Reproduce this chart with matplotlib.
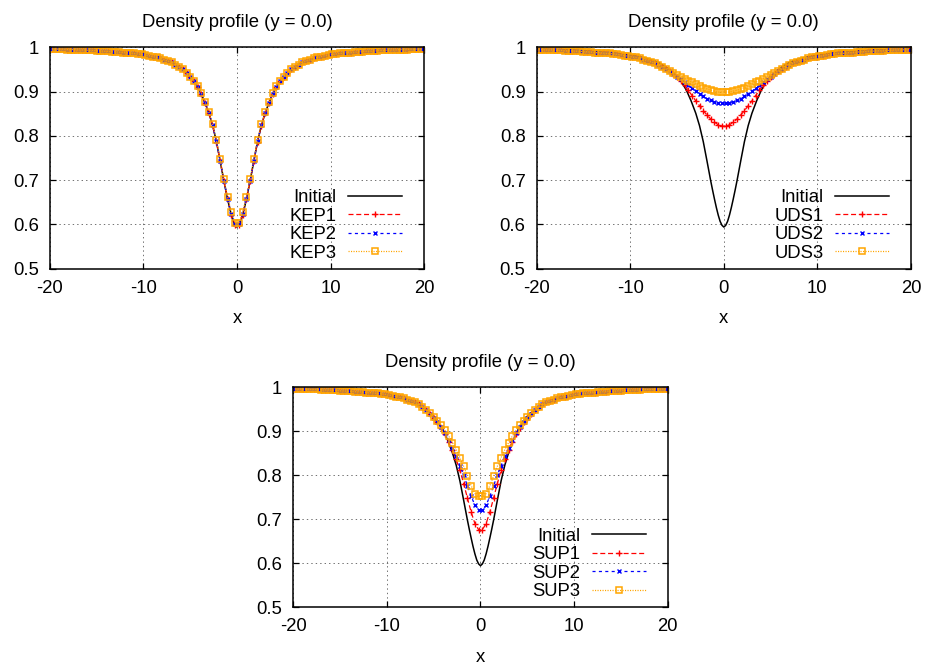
import numpy as np
import matplotlib
matplotlib.use("Agg")
import matplotlib.pyplot as plt

plt.rcParams['font.family'] = ['Liberation Sans', 'DejaVu Sans']
plt.rcParams['font.size'] = 13.3
plt.rcParams['lines.scale_dashes'] = False
plt.rcParams['axes.unicode_minus'] = False

# ---------------- data ----------------
# cell-centre positions of the sampled solutions (100 cells on [-20, 20])
x_cells = np.round(np.arange(-19.8, 19.81, 0.4), 1)

# initial (exact) profile, drawn as a solid line
x_init = [-20, -18, -16, -14, -12, -10, -9, -8, -7, -6, -5, -4.5, -4, -3.5, -3,
          -2.6, -2.2, -1.8, -1.4, -1.2, -1.0, -0.8, -0.6, -0.4, -0.2, 0,
          0.2, 0.4, 0.6, 0.8, 1.0, 1.2, 1.4, 1.8, 2.2, 2.6, 3, 3.5, 4, 4.5, 5,
          6, 7, 8, 9, 10, 12, 14, 16, 18, 20]
rho_init = [0.996, 0.995, 0.994, 0.991, 0.988, 0.983, 0.979, 0.9735, 0.966, 0.953, 0.934, 0.921, 0.903, 0.879, 0.851,
            0.823, 0.787, 0.743, 0.698, 0.677, 0.657, 0.638, 0.621, 0.607, 0.598, 0.594,
            0.598, 0.607, 0.621, 0.638, 0.657, 0.677, 0.698, 0.743, 0.787, 0.823, 0.851, 0.879, 0.903, 0.921, 0.934,
            0.953, 0.966, 0.9735, 0.979, 0.983, 0.988, 0.991, 0.994, 0.995, 0.996]

kep1 = [0.996, 0.996, 0.996, 0.996, 0.995, 0.995, 0.995, 0.994, 0.994, 0.994, 0.993, 0.993, 0.992, 0.992, 0.991, 0.991, 0.990, 0.990,
        0.989, 0.988, 0.988, 0.987, 0.986, 0.985, 0.984, 0.982, 0.981, 0.979, 0.977, 0.975, 0.972, 0.969, 0.966, 0.961, 0.956,
        0.950, 0.943, 0.934, 0.924, 0.911, 0.895, 0.874, 0.851, 0.823, 0.787, 0.743, 0.698, 0.657, 0.622, 0.599,
        0.599, 0.622, 0.657, 0.698, 0.743, 0.787, 0.823, 0.851, 0.874, 0.895, 0.911, 0.924, 0.934, 0.943, 0.950,
        0.956, 0.961, 0.966, 0.969, 0.972, 0.975, 0.977, 0.979, 0.981, 0.982, 0.984, 0.985, 0.986, 0.987, 0.988, 0.988, 0.989,
        0.990, 0.990, 0.991, 0.991, 0.992, 0.992, 0.993, 0.993, 0.994, 0.994, 0.994, 0.995, 0.995, 0.995, 0.996, 0.996, 0.996, 0.996]
kep2 = [0.996, 0.996, 0.996, 0.996, 0.995, 0.995, 0.995, 0.994, 0.994, 0.994, 0.993, 0.993, 0.992, 0.992, 0.991, 0.991, 0.990, 0.990,
        0.989, 0.988, 0.988, 0.987, 0.986, 0.985, 0.984, 0.982, 0.981, 0.979, 0.977, 0.975, 0.972, 0.969, 0.966, 0.961, 0.956,
        0.950, 0.943, 0.934, 0.924, 0.911, 0.895, 0.875, 0.852, 0.824, 0.788, 0.744, 0.699, 0.658, 0.623, 0.600,
        0.600, 0.623, 0.658, 0.699, 0.744, 0.788, 0.824, 0.852, 0.875, 0.895, 0.911, 0.924, 0.934, 0.943, 0.950,
        0.956, 0.961, 0.966, 0.969, 0.972, 0.975, 0.977, 0.979, 0.981, 0.982, 0.984, 0.985, 0.986, 0.987, 0.988, 0.988, 0.989,
        0.990, 0.990, 0.991, 0.991, 0.992, 0.992, 0.993, 0.993, 0.994, 0.994, 0.994, 0.995, 0.995, 0.995, 0.996, 0.996, 0.996, 0.996]
kep3 = [0.996, 0.996, 0.996, 0.996, 0.995, 0.995, 0.995, 0.994, 0.994, 0.994, 0.993, 0.993, 0.992, 0.992, 0.991, 0.991, 0.990, 0.990,
        0.989, 0.988, 0.988, 0.987, 0.986, 0.985, 0.984, 0.982, 0.981, 0.979, 0.977, 0.975, 0.972, 0.969, 0.966, 0.961, 0.956,
        0.950, 0.943, 0.934, 0.924, 0.912, 0.896, 0.876, 0.853, 0.826, 0.791, 0.747, 0.702, 0.661, 0.627, 0.604,
        0.604, 0.627, 0.661, 0.702, 0.747, 0.791, 0.826, 0.853, 0.876, 0.896, 0.912, 0.924, 0.934, 0.943, 0.950,
        0.956, 0.961, 0.966, 0.969, 0.972, 0.975, 0.977, 0.979, 0.981, 0.982, 0.984, 0.985, 0.986, 0.987, 0.988, 0.988, 0.989,
        0.990, 0.990, 0.991, 0.991, 0.992, 0.992, 0.993, 0.993, 0.994, 0.994, 0.994, 0.995, 0.995, 0.995, 0.996, 0.996, 0.996, 0.996]

uds1 = [0.995, 0.995, 0.994, 0.994, 0.994, 0.993, 0.993, 0.992, 0.992, 0.992, 0.991, 0.991, 0.990, 0.990, 0.989, 0.988, 0.988,
        0.987, 0.986, 0.986, 0.985, 0.984, 0.983, 0.981, 0.980, 0.978, 0.977, 0.975, 0.972, 0.970, 0.967, 0.964, 0.960, 0.956, 0.951,
        0.946, 0.940, 0.933, 0.924, 0.914, 0.903, 0.891, 0.879, 0.868, 0.857, 0.847, 0.838, 0.831, 0.825, 0.822,
        0.822, 0.825, 0.831, 0.838, 0.847, 0.857, 0.868, 0.879, 0.891, 0.903, 0.914, 0.924, 0.933, 0.940, 0.946,
        0.951, 0.956, 0.960, 0.964, 0.967, 0.970, 0.972, 0.975, 0.977, 0.978, 0.980, 0.981, 0.983, 0.984, 0.985, 0.986, 0.986,
        0.987, 0.988, 0.988, 0.989, 0.990, 0.990, 0.991, 0.991, 0.992, 0.992, 0.992, 0.993, 0.993, 0.994, 0.994, 0.994, 0.995, 0.995]
uds2 = [0.995, 0.995, 0.994, 0.994, 0.994, 0.993, 0.993, 0.992, 0.992, 0.992, 0.991, 0.991, 0.990, 0.990, 0.989, 0.988, 0.988,
        0.987, 0.986, 0.986, 0.985, 0.984, 0.983, 0.981, 0.980, 0.978, 0.977, 0.975, 0.972, 0.970, 0.967, 0.964, 0.960, 0.956, 0.951,
        0.946, 0.940, 0.934, 0.928, 0.921, 0.914, 0.907, 0.901, 0.895, 0.889, 0.884, 0.880, 0.877, 0.875, 0.874,
        0.874, 0.875, 0.877, 0.880, 0.884, 0.889, 0.895, 0.901, 0.907, 0.914, 0.921, 0.928, 0.934, 0.940, 0.946,
        0.951, 0.956, 0.960, 0.964, 0.967, 0.970, 0.972, 0.975, 0.977, 0.978, 0.980, 0.981, 0.983, 0.984, 0.985, 0.986, 0.986,
        0.987, 0.988, 0.988, 0.989, 0.990, 0.990, 0.991, 0.991, 0.992, 0.992, 0.992, 0.993, 0.993, 0.994, 0.994, 0.994, 0.995, 0.995]
uds3 = [0.995, 0.995, 0.994, 0.994, 0.994, 0.993, 0.993, 0.992, 0.992, 0.992, 0.991, 0.991, 0.990, 0.990, 0.989, 0.988, 0.988,
        0.987, 0.986, 0.986, 0.985, 0.984, 0.983, 0.981, 0.980, 0.978, 0.977, 0.975, 0.972, 0.970, 0.967, 0.964, 0.960, 0.956, 0.951,
        0.946, 0.942, 0.938, 0.934, 0.929, 0.925, 0.921, 0.917, 0.913, 0.909, 0.906, 0.903, 0.901, 0.899, 0.899,
        0.899, 0.899, 0.901, 0.903, 0.906, 0.909, 0.913, 0.917, 0.921, 0.925, 0.929, 0.934, 0.938, 0.942, 0.946,
        0.951, 0.956, 0.960, 0.964, 0.967, 0.970, 0.972, 0.975, 0.977, 0.978, 0.980, 0.981, 0.983, 0.984, 0.985, 0.986, 0.986,
        0.987, 0.988, 0.988, 0.989, 0.990, 0.990, 0.991, 0.991, 0.992, 0.992, 0.992, 0.993, 0.993, 0.994, 0.994, 0.994, 0.995, 0.995]

sup1 = [0.996, 0.996, 0.996, 0.996, 0.995, 0.995, 0.995, 0.994, 0.994, 0.994, 0.993, 0.993, 0.992, 0.992, 0.991, 0.991, 0.990, 0.990,
        0.989, 0.988, 0.988, 0.987, 0.986, 0.985, 0.984, 0.982, 0.981, 0.979, 0.977, 0.975, 0.972, 0.969, 0.966, 0.961, 0.956,
        0.948, 0.940, 0.931, 0.920, 0.908, 0.893, 0.876, 0.858, 0.836, 0.811, 0.781, 0.748, 0.716, 0.690, 0.676,
        0.676, 0.690, 0.716, 0.748, 0.781, 0.811, 0.836, 0.858, 0.876, 0.893, 0.908, 0.920, 0.931, 0.940, 0.948,
        0.956, 0.961, 0.966, 0.969, 0.972, 0.975, 0.977, 0.979, 0.981, 0.982, 0.984, 0.985, 0.986, 0.987, 0.988, 0.988, 0.989,
        0.990, 0.990, 0.991, 0.991, 0.992, 0.992, 0.993, 0.993, 0.994, 0.994, 0.994, 0.995, 0.995, 0.995, 0.996, 0.996, 0.996, 0.996]
sup2 = [0.996, 0.996, 0.996, 0.996, 0.995, 0.995, 0.995, 0.994, 0.994, 0.994, 0.993, 0.993, 0.992, 0.992, 0.991, 0.991, 0.990, 0.990,
        0.989, 0.988, 0.988, 0.987, 0.986, 0.985, 0.984, 0.982, 0.981, 0.979, 0.977, 0.975, 0.972, 0.969, 0.966, 0.961, 0.956,
        0.948, 0.940, 0.931, 0.921, 0.909, 0.895, 0.879, 0.862, 0.843, 0.822, 0.800, 0.776, 0.752, 0.732, 0.721,
        0.721, 0.732, 0.752, 0.776, 0.800, 0.822, 0.843, 0.862, 0.879, 0.895, 0.909, 0.921, 0.931, 0.940, 0.948,
        0.956, 0.961, 0.966, 0.969, 0.972, 0.975, 0.977, 0.979, 0.981, 0.982, 0.984, 0.985, 0.986, 0.987, 0.988, 0.988, 0.989,
        0.990, 0.990, 0.991, 0.991, 0.992, 0.992, 0.993, 0.993, 0.994, 0.994, 0.994, 0.995, 0.995, 0.995, 0.996, 0.996, 0.996, 0.996]
sup3 = [0.996, 0.996, 0.996, 0.996, 0.995, 0.995, 0.995, 0.994, 0.994, 0.994, 0.993, 0.993, 0.992, 0.992, 0.991, 0.991, 0.990, 0.990,
        0.989, 0.988, 0.988, 0.987, 0.986, 0.985, 0.984, 0.982, 0.981, 0.979, 0.977, 0.975, 0.972, 0.969, 0.966, 0.961, 0.956,
        0.949, 0.941, 0.933, 0.924, 0.914, 0.902, 0.889, 0.874, 0.858, 0.840, 0.820, 0.798, 0.776, 0.758, 0.752,
        0.752, 0.758, 0.776, 0.798, 0.820, 0.840, 0.858, 0.874, 0.889, 0.902, 0.914, 0.924, 0.933, 0.941, 0.949,
        0.956, 0.961, 0.966, 0.969, 0.972, 0.975, 0.977, 0.979, 0.981, 0.982, 0.984, 0.985, 0.986, 0.987, 0.988, 0.988, 0.989,
        0.990, 0.990, 0.991, 0.991, 0.992, 0.992, 0.993, 0.993, 0.994, 0.994, 0.994, 0.995, 0.995, 0.995, 0.996, 0.996, 0.996, 0.996]

panels = [
    (["KEP1", "KEP2", "KEP3"], [kep1, kep2, kep3]),
    (["UDS1", "UDS2", "UDS3"], [uds1, uds2, uds3]),
    (["SUP1", "SUP2", "SUP3"], [sup1, sup2, sup3]),
]
title = "Density profile (y = 0.0)"
xticks = [-20, -10, 0, 10, 20]
yticks = [0.5, 0.6, 0.7, 0.8, 0.9, 1.0]
ytick_labels = ["0.5", "0.6", "0.7", "0.8", "0.9", "1"]

# ---------------- styles ----------------
styles = [
    dict(color="#ff0000", dashes=(3.6, 2.0), marker="+", markersize=4.4, markeredgewidth=1.0, linewidth=0.9),
    dict(color="#0000ff", dashes=(2.2, 2.4), marker="x", markersize=3.5, markeredgewidth=1.0, linewidth=0.9),
    dict(color="#ffa500", dashes=(0.8, 1.0), marker="s", markersize=4.0, markeredgewidth=1.1,
         markerfacecolor="none", linewidth=0.9),
]

FS = 13.3
W, H = 928, 664
fig = plt.figure(figsize=(W / 100, H / 100), dpi=100)
rects_px = [(50, 47.3, 374, 221.4), (536.7, 47.3, 374.3, 221.4), (293.3, 387.3, 374.4, 219.7)]

for (labels, series), (lx, ty, w, h) in zip(panels, rects_px):
    ax = fig.add_axes([lx / W, 1 - (ty + h) / H, w / W, h / H])
    ax.plot(x_init, rho_init, color="black", linewidth=1.1, label="Initial")
    for lab, ys, st in zip(labels, series, styles):
        ax.plot(x_cells, ys, label=lab, **st)
    ax.set_xlim(-20, 20)
    ax.set_ylim(0.5, 1.0)
    ax.set_xticks(xticks)
    ax.set_yticks(yticks)
    ax.set_yticklabels(ytick_labels)
    ax.tick_params(direction="in", top=True, right=True, length=4.5, width=0.9,
                   labelsize=FS)
    ax.tick_params(axis="y", pad=8)
    ax.tick_params(axis="x", pad=7.8)
    ax.grid(True, color="#707070", linewidth=0.7, linestyle=(0, (1, 2.2)))
    ax.set_axisbelow(True)
    for sp in ax.spines.values():
        sp.set_linewidth(1.1)
    ax.set_title(title, fontsize=FS, pad=14.5)
    ax.set_xlabel("x", fontsize=FS, labelpad=10)
    ax.legend(loc="lower right", frameon=False, markerfirst=False, handlelength=2.9,
              handletextpad=0.65, labelspacing=0.08, borderaxespad=0.0,
              borderpad=0.0, fontsize=FS, numpoints=1,
              bbox_to_anchor=(1 - 22 / w, 7.0 / h))

fig.savefig("out.png", dpi=100)
